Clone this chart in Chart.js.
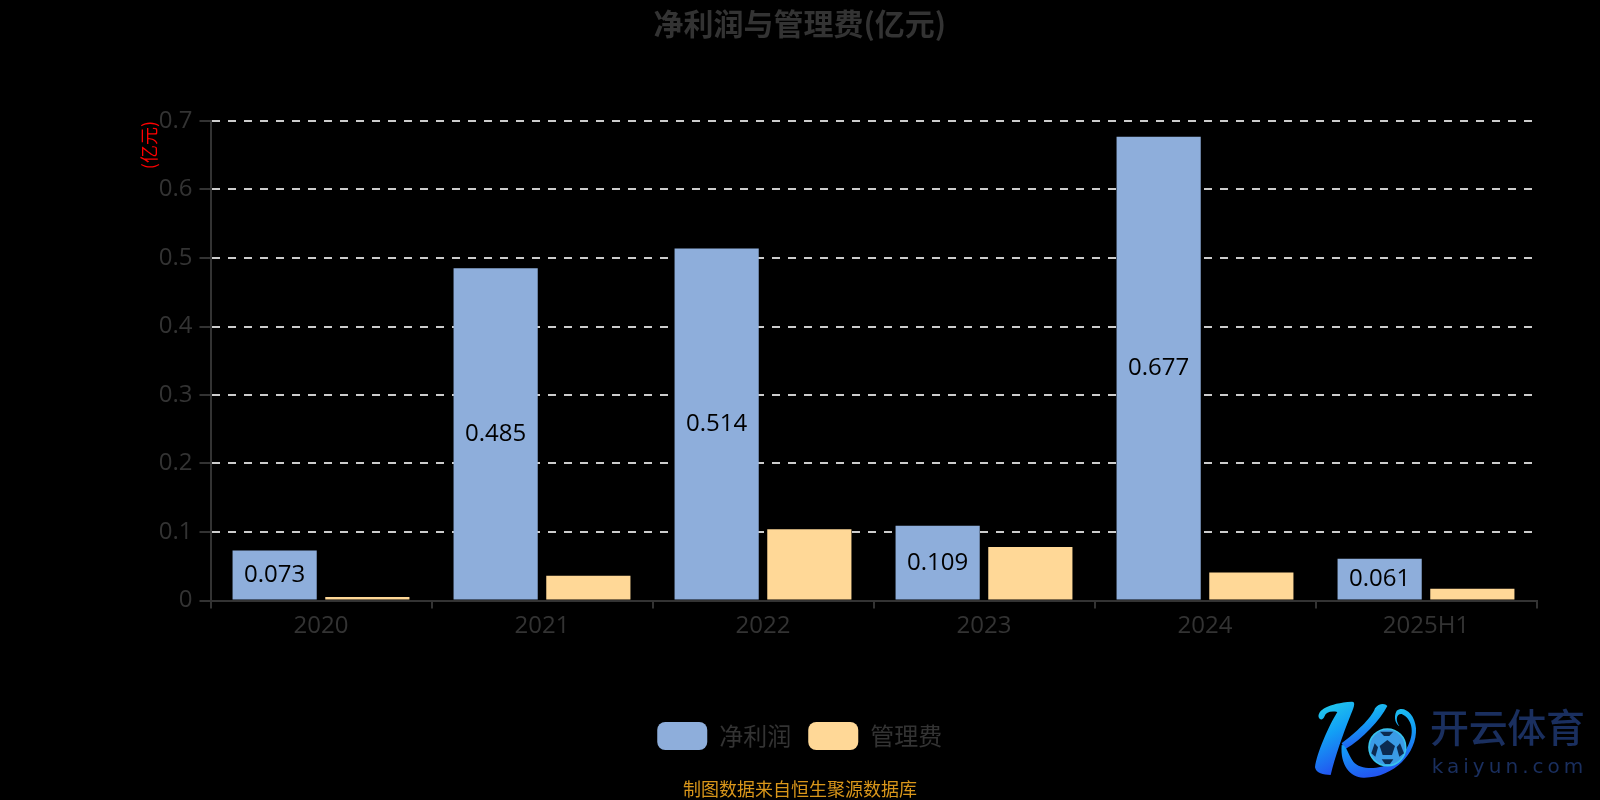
<!DOCTYPE html>
<html><head><meta charset="utf-8">
<style>html,body{margin:0;background:#000;width:1600px;height:800px;overflow:hidden}
#w{position:relative;width:1600px;height:800px}
canvas{position:absolute;left:0;top:0}
#logo{position:absolute;left:1300px;top:690px}
</style>
<script src="https://cdn.jsdelivr.net/npm/chart.js@4"></script>
</head><body><div id="w"><canvas id="c" width="1600" height="800"></canvas>
<svg id="logo" width="300" height="110" viewBox="0 0 900 330" xmlns="http://www.w3.org/2000/svg">
<defs><linearGradient id="g" x1="0" y1="0" x2="0.3" y2="1"><stop offset="0" stop-color="#26d3ea"/><stop offset="0.5" stop-color="#12a0f5"/><stop offset="1" stop-color="#2257f0"/></linearGradient></defs>
<path fill="url(#g)" d="M56 82 C52 60 85 40 155 35 C170 34 160 55 150 80 C130 130 105 200 92 255 C70 255 48 250 45 232 C50 190 85 110 112 66 C90 62 78 68 74 78 C70 90 60 92 56 82Z"/>
<path fill="url(#g)" d="M125 160 C165 130 215 85 225 55 C235 40 255 38 262 48 C240 90 190 145 135 178Z"/>
<path fill="url(#g)" d="M125 165 C140 165 142 190 160 215 C190 250 290 240 325 165 C345 125 335 85 305 72 C290 70 285 90 298 108 C290 105 278 85 290 62 C310 45 345 70 348 115 C352 190 280 265 190 263 C150 262 120 225 125 165Z"/>
<circle cx="262" cy="172" r="55" fill="#3a9be6" stroke="#38c4ee" stroke-width="5"/>
<polygon points="262,150 285,168 276,195 248,195 239,168" fill="#0c2a50"/>
<polygon points="240,125 280,125 268,138 252,138" fill="#0c2a50"/>
<polygon points="300,160 312,190 298,200 290,172" fill="#0c2a50"/>
<polygon points="224,160 234,172 226,200 214,190" fill="#0c2a50"/>
<polygon points="245,208 280,208 270,222 255,222" fill="#0c2a50"/>
<text x="390" y="156" font-family="'Noto Sans CJK SC'" font-weight="500" font-size="117" textLength="465" fill="#1a2f5f">开云体育</text>
<text x="395" y="250" font-family="'DejaVu Sans'" font-size="60" textLength="455" fill="#1a2f5f">kaiyun.com</text>
</svg>
</div>
<script>
const categories=['2020','2021','2022','2023','2024','2025H1'];
const netProfit=[0.073,0.485,0.514,0.109,0.677,0.061];
const adminFee=[0.005,0.036,0.104,0.078,0.041,0.017];
const yTicks=['0','0.1','0.2','0.3','0.4','0.5','0.6','0.7'];
const FONT="'Open Sans','Noto Sans CJK SC',sans-serif";
const labelsPlugin={id:'barLabels',afterDatasetsDraw(ch){
  const {ctx}=ch;ctx.save();ctx.fillStyle='#000';ctx.font='24px '+FONT;ctx.textAlign='center';ctx.textBaseline='middle';
  ch.getDatasetMeta(0).data.forEach((b,i)=>{ctx.fillText(netProfit[i].toFixed(3),b.x,(b.y+b.base)/2);});
  ctx.restore();
}};
const footPlugin={id:'foot',afterDraw(ch){
  const {ctx}=ch;ctx.save();ctx.fillStyle='#d9961a';ctx.font="18px 'Noto Sans CJK SC'";ctx.textAlign='center';ctx.textBaseline='middle';
  ctx.fillText('制图数据来自恒生聚源数据库',800,789);ctx.restore();
}};
new Chart(document.getElementById('c'),{
  type:'bar',
  data:{labels:categories,datasets:[
    {label:'净利润',data:netProfit,backgroundColor:'#8eaedb',barPercentage:0.908,categoryPercentage:0.839},
    {label:'管理费',data:adminFee,backgroundColor:'#ffd897',barPercentage:0.908,categoryPercentage:0.839}
  ]},
  plugins:[labelsPlugin,footPlugin],
  options:{responsive:false,animation:false,
    layout:{padding:{left:63,right:63.5,top:0,bottom:40}},
    plugins:{
      title:{display:true,text:'净利润与管理费(亿元)',color:'#333',font:{family:"'Noto Sans CJK SC'",size:30,weight:'bold'},padding:{top:6,bottom:79}},
      tooltip:{enabled:false},
      legend:{position:'bottom',labels:{boxWidth:50,boxHeight:28,padding:17,color:'#333',font:{family:"'Noto Sans CJK SC'",size:24},
        generateLabels(ch){return ch.data.datasets.map((d,i)=>({text:d.label,fillStyle:d.backgroundColor,strokeStyle:d.backgroundColor,lineWidth:0,borderRadius:8,datasetIndex:i,fontColor:'#333'}));}}}
    },
    scales:{
      x:{afterFit(ax){ax.height=104.5;},
        grid:{offset:true,drawOnChartArea:false,color:'#333',lineWidth:2,tickLength:8,tickColor:'#333'},border:{color:'#333',width:2},
        ticks:{color:'#333',font:{family:FONT,size:24},padding:3,maxRotation:0}},
      y:{min:0,max:0.7,afterFit(ax){ax.width=147.5;},
        afterBuildTicks(ax){ax.ticks=yTicks.map(v=>({value:+v}));},
        title:{display:true,text:'(亿元)',color:'#f00',align:'end',font:{family:"'Noto Sans CJK SC'",size:18},padding:{top:75,bottom:0}},
        grid:{color:c=>c.tick.value===0?'rgba(0,0,0,0)':'#ccc',lineWidth:2,tickLength:11,tickColor:'#333',tickBorderDash:[],tickWidth:2},
        border:{color:'#333',width:2,dash:[8,8]},
        ticks:{color:'#333',font:{family:FONT,size:24},padding:7,callback:(v)=>String(v)}}
    }
  }
});
</script>
</body></html>
